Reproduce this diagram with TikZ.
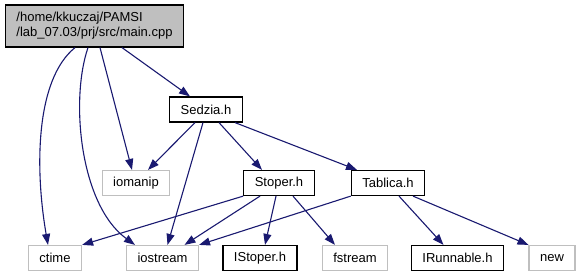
\documentclass[tikz,border=0pt]{standalone}
\usepackage{fontspec}
\setmainfont{Liberation Sans}
\usetikzlibrary{arrows.meta}

\definecolor{edgeblue}{HTML}{191970}
\definecolor{sysgray}{HTML}{BFBFBF}

\begin{document}
\begin{tikzpicture}[
  x=1pt, y=-1pt,
  font=\fontsize{13}{15}\selectfont,
  box/.style={draw, line width=1.2pt, inner xsep=11pt, inner ysep=2pt, minimum height=25pt},
  hdr/.style={box, draw=black},
  sys/.style={box, draw=sysgray},
  root/.style={box, fill=sysgray, align=left, minimum height=42pt},
  dep/.style={->, draw=edgeblue, line width=1.1pt},
  >={Triangle[length=11pt, width=8pt]}
]
\useasboundingbox (0,0) rectangle (580,277);

\node[root] (main) at (94.5,26) {/home/kkuczaj/PAMSI\\/lab\_07.03/prj/src/main.cpp};
\node[hdr] (sedzia) at (206,109.5) {Sedzia.h};
\node[sys] (iomanip) at (136,183) {iomanip};
\node[hdr] (stoper) at (279,183) {Stoper.h};
\node[hdr] (tablica) at (388,183) {Tablica.h};
\node[sys] (ctime) at (55,258) {ctime};
\node[sys] (iostream) at (162.5,258) {iostream};
\node[hdr] (istoper) at (260,258) {IStoper.h};
\node[sys] (fstream) at (355,258) {fstream};
\node[hdr] (irunnable) at (457.5,258) {IRunnable.h};
\node[sys] (new) at (552,258) {new};

% main.cpp
\draw[dep] ([xshift=27.5pt]main.south) -- ([xshift=-16pt]sedzia.north);
\draw[dep] ([xshift=5.5pt]main.south) -- ([xshift=-4pt]iomanip.north);
\draw[dep] ([xshift=-6.5pt]main.south) .. controls (70,100) and (80,205) .. ([xshift=-27.5pt]iostream.north);
\draw[dep] ([xshift=-19.5pt]main.south) .. controls (35,80) and (35,170) .. ([xshift=-7pt]ctime.north);

% Sedzia.h
\draw[dep] ([xshift=-11pt]sedzia.south) -- ([xshift=12pt]iomanip.north);
\draw[dep] ([xshift=-3pt]sedzia.south) -- ([xshift=5pt]iostream.north);
\draw[dep] ([xshift=13pt]sedzia.south) -- ([xshift=-17pt]stoper.north);
\draw[dep] ([xshift=29pt]sedzia.south) -- ([xshift=-31pt]tablica.north);

% Stoper.h
\draw[dep] (stoper.south west) -- (ctime.north east);
\draw[dep] ([xshift=-19pt]stoper.south) -- ([xshift=22pt]iostream.north);
\draw[dep] ([xshift=-3pt]stoper.south) -- ([xshift=5pt]istoper.north);
\draw[dep] ([xshift=14pt]stoper.south) -- ([xshift=-20pt]fstream.north);

% Tablica.h
\draw[dep] (tablica.south west) -- (iostream.north east);
\draw[dep] ([xshift=11pt]tablica.south) -- ([xshift=-14pt]irunnable.north);
\draw[dep] ([xshift=25pt]tablica.south) -- (new.north west);
\end{tikzpicture}
\end{document}
